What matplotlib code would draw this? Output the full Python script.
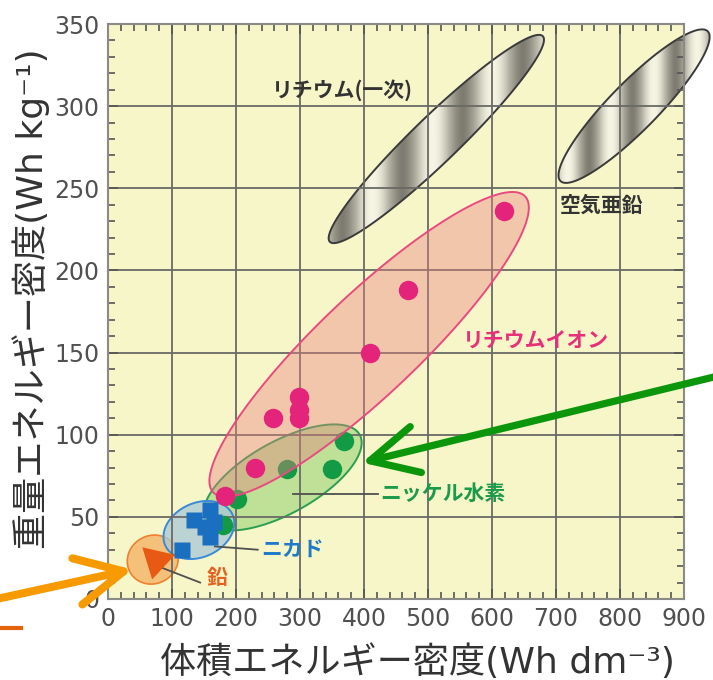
import numpy as np
import matplotlib
matplotlib.use("Agg")
import matplotlib.pyplot as plt
from matplotlib.patches import Polygon
from matplotlib.ticker import MultipleLocator
from matplotlib.colors import LinearSegmentedColormap, to_rgba
from matplotlib.lines import Line2D

# ---------------- data ----------------
x_ticks = [0, 100, 200, 300, 400, 500, 600, 700, 800, 900]
y_ticks = [0, 50, 100, 150, 200, 250, 300, 350]

liion_x = [618, 469, 409, 299, 299, 299, 258, 230, 183]
liion_y = [236, 188, 150, 123, 115, 110, 110, 80, 63]

nimh_x = [368, 350, 279, 201, 180]
nimh_y = [96, 79, 79, 61, 45]

nicd_x = [159, 134, 152, 165, 159, 116]
nicd_y = [54, 48, 44, 47, 38, 30]

lead_x = [75]
lead_y = [24]

# region ellipses: centre (data)
region_names = ["lith1", "zincair", "liion", "nimh", "nicd", "lead"]
region_cx = [513, 822, 408, 273, 142, 70]
region_cy = [280, 300, 155, 74, 42, 24]

label_texts = ["リチウム(一次)", "空気亜鉛", "リチウムイオン", "ニッケル水素", "ニカド", "鉛"]
label_x = [256, 706, 555, 425, 240, 155]
label_y = [310, 240, 157, 64, 30, 13]

# ---------------- style ----------------
W, H = 713, 680
fig = plt.figure(figsize=(W / 100, H / 100), dpi=100)
fig.patch.set_facecolor("white")
ax = fig.add_axes([108 / W, 81 / H, 576 / W, 575 / H])
ax.set_facecolor("#f7f6c8")
ax.set_xlim(0, 900)
ax.set_ylim(0, 350)

p0 = ax.transData.transform((0, 0))
p1 = ax.transData.transform((1, 1))
sx, sy = p1[0] - p0[0], p1[1] - p0[1]


def ellipse_xy(cx, cy, a, b, ang):
    t = np.linspace(0, 2 * np.pi, 300)
    th = np.radians(ang)
    u, v = a * np.cos(t), b * np.sin(t)
    dx = u * np.cos(th) - v * np.sin(th)
    dy = u * np.sin(th) + v * np.cos(th)
    return np.column_stack([cx + dx / sx, cy + dy / sy])


shape = {
    "lith1": dict(a=148, b=23, ang=44),
    "zincair": dict(a=105, b=24, ang=45.5),
    "liion": dict(a=215, b=50, ang=43.5),
    "nimh": dict(a=88, b=36, ang=29),
    "nicd": dict(a=37, b=27, ang=25),
    "lead": dict(a=26, b=24, ang=30),
}
polys = {n: ellipse_xy(cx, cy, **shape[n])
         for n, cx, cy in zip(region_names, region_cx, region_cy)}

# metallic gray ellipses
metal = LinearSegmentedColormap.from_list("metal", ["#7e7c70", "#b3b1a3", "#f6f5e4"])
stripe = {"lith1": (60, 372), "zincair": (43, 567)}  # period px, light-band px
for n in ["lith1", "zincair"]:
    xy = polys[n]
    x0, x1 = xy[:, 0].min(), xy[:, 0].max()
    y0, y1 = xy[:, 1].min(), xy[:, 1].max()
    xs = np.linspace(x0, x1, 400)
    px = xs * sx + 108
    per, ph = stripe[n]
    val = (0.5 + 0.5 * np.cos(2 * np.pi * (px - ph) / per)) ** 0.8
    img = np.tile(val, (10, 1))
    im = ax.imshow(img, extent=[x0, x1, y0, y1], origin="lower", cmap=metal,
                   aspect="auto", zorder=1.0, interpolation="bilinear")
    edge = Polygon(xy, closed=True, facecolor="none", edgecolor="#3a3a3a",
                   lw=1.4, zorder=1.05, clip_on=False)
    ax.add_patch(edge)
    im.set_clip_path(edge)
    im.set_clip_box(fig.bbox)

ax.add_patch(Polygon(polys["lead"], closed=True, facecolor=to_rgba("#f5b060", 0.75),
                     edgecolor="#ee8030", lw=1.2, zorder=1.1, clip_on=False))
ax.add_patch(Polygon(polys["nimh"], closed=True, facecolor=to_rgba("#8fd070", 0.55),
                     edgecolor="#2a9f50", lw=1.4, zorder=1.15))
ax.add_patch(Polygon(polys["nicd"], closed=True, facecolor=to_rgba("#a8c8d8", 0.75),
                     edgecolor="#3a8ad8", lw=1.4, zorder=1.2))

ax.set_xlim(0, 900)
ax.set_ylim(0, 350)

# grid
for xv in x_ticks:
    ax.axvline(xv, color="#6a6a66", lw=1.3, zorder=1.3)
for yv in y_ticks:
    ax.axhline(yv, color="#6a6a66", lw=1.3, zorder=1.3)

ax.plot(nimh_x, nimh_y, "o", color="#129a44", ms=14, mec="none", zorder=1.4)
ax.add_patch(Polygon(polys["liion"], closed=True, facecolor=to_rgba("#e87f80", 0.4),
                     edgecolor="#ea4a80", lw=1.4, zorder=1.5))
ax.plot(liion_x, liion_y, "o", color="#e4237a", ms=14, mec="none", zorder=3)
ax.plot(nicd_x, nicd_y, "s", color="#1a6fc0", ms=11.5, mec="none", zorder=2.2)
ax.plot(lead_x, lead_y, marker=(3, 0, -73), ls="none", color="#e85a14", ms=28,
        mec="none", zorder=2.2)

# leader lines
lead_lines = [((289, 422), (64, 64)), ((167, 234), (32, 30)), ((81, 144), (19.5, 10))]
for xs_, ys_ in lead_lines:
    ax.plot(xs_, ys_, color="#505050", lw=1.3, zorder=2.1)

label_colors = ["#333333", "#333333", "#e8307a", "#1a9a4a", "#1f7ac8", "#e8601e"]
for t, x, y, c in zip(label_texts, label_x, label_y, label_colors):
    ax.text(x, y, t, color=c, fontsize=15, fontweight="bold", ha="left", va="center",
            family=["Noto Sans CJK JP", "DejaVu Sans"], zorder=4, clip_on=False)

# axes styling
ax.set_xticks(x_ticks)
ax.set_yticks(y_ticks)
ax.xaxis.set_minor_locator(MultipleLocator(20))
ax.yaxis.set_minor_locator(MultipleLocator(10))
ax.tick_params(which="both", direction="in", top=True, right=True, color="#555555",
               width=1.2, labelsize=17, labelcolor="#505050", pad=6)
ax.tick_params(which="major", length=7)
ax.tick_params(which="minor", length=5)
for lab in ax.get_xticklabels() + ax.get_yticklabels():
    lab.set_family("DejaVu Sans")
for s in ax.spines.values():
    s.set_color("#8a8a86")
    s.set_linewidth(1.5)

lab_fam = ["DejaVu Sans", "Noto Sans CJK JP"]
ax.set_xlabel("体積エネルギー密度(Wh dm⁻³)", fontsize=26, color="#333333", family=lab_fam)
ax.set_ylabel("重量エネルギー密度(Wh kg⁻¹)", fontsize=26, color="#333333", family=lab_fam)
ax.xaxis.label.set_va("center")
ax.yaxis.label.set_va("center")
ax.xaxis.set_label_coords(0.537, -0.11)
ax.yaxis.set_label_coords(-0.134, 0.522)

# arrows
ax.annotate("", xy=(397, 83), xycoords="data", xytext=(722, 305),
            textcoords="figure pixels", annotation_clip=False,
            arrowprops=dict(arrowstyle="->,head_length=1.7,head_width=0.85",
                            lw=5.2, color="#0c960c", shrinkA=0, shrinkB=0,
                            mutation_scale=20, capstyle="round", joinstyle="round"),
            zorder=6)
ax.annotate("", xy=(38, 18), xycoords="data", xytext=(-8, 80),
            textcoords="figure pixels", annotation_clip=False,
            arrowprops=dict(arrowstyle="->,head_length=1.7,head_width=0.85",
                            lw=5.8, color="#f79a00", shrinkA=0, shrinkB=0,
                            mutation_scale=20, capstyle="round", joinstyle="round"),
            zorder=6)
fig.add_artist(Line2D([0, 21 / W], [52 / H, 52 / H], transform=fig.transFigure,
                      color="#e4640c", lw=3))

fig.savefig("out.png", dpi=100)
